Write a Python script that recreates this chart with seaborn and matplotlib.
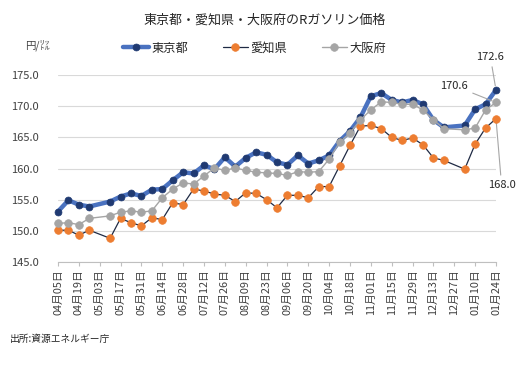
import matplotlib
matplotlib.use("Agg")
import matplotlib.pyplot as plt
import seaborn as sns
import pandas as pd
import numpy as np

# weekly survey dates (05/03 and 12/27 not published)
DATES = ["2021-04-05", "2021-04-12", "2021-04-19", "2021-04-26",
         "2021-05-10", "2021-05-17", "2021-05-24", "2021-05-31",
         "2021-06-07", "2021-06-14", "2021-06-21", "2021-06-28",
         "2021-07-05", "2021-07-12", "2021-07-19", "2021-07-26",
         "2021-08-02", "2021-08-09", "2021-08-16", "2021-08-23",
         "2021-08-30", "2021-09-06", "2021-09-13", "2021-09-20",
         "2021-09-27", "2021-10-04", "2021-10-11", "2021-10-18",
         "2021-10-25", "2021-11-01", "2021-11-08", "2021-11-15",
         "2021-11-22", "2021-11-29", "2021-12-06", "2021-12-13",
         "2021-12-20", "2022-01-03", "2022-01-10", "2022-01-17",
         "2022-01-24"]

TOKYO = [153.1, 154.9, 154.2, 153.9, 154.7, 155.5, 156.0, 155.6,
         156.6, 156.7, 158.1, 159.4, 159.2, 160.5, 159.9, 161.8,
         160.3, 161.7, 162.6, 162.2, 161.0, 160.6, 162.1, 160.8,
         161.3, 162.1, 164.4, 166.0, 168.2, 171.6, 172.1, 171.0,
         170.6, 171.0, 170.3, 167.8, 166.6, 166.9, 169.5, 170.3,
         172.6]

AICHI = [150.1, 150.1, 149.3, 150.1, 148.8, 152.0, 151.3, 150.8,
         152.1, 151.8, 154.5, 154.2, 156.7, 156.4, 155.9, 155.7,
         154.7, 156.1, 156.0, 155.0, 153.7, 155.7, 155.7, 155.3,
         157.1, 157.1, 160.4, 163.7, 166.8, 166.9, 166.4, 165.0,
         164.5, 164.9, 163.8, 161.7, 161.3, 159.9, 163.9, 166.5,
         168.0]

OSAKA = [151.2, 151.3, 151.0, 152.0, 152.4, 153.0, 153.2, 153.0,
         153.2, 155.3, 156.7, 157.7, 157.5, 158.8, 160.1, 159.7,
         160.1, 159.7, 159.4, 159.3, 159.2, 158.9, 159.5, 159.4,
         159.5, 161.5, 164.2, 165.7, 167.8, 169.4, 170.7, 170.6,
         170.3, 170.3, 169.4, 167.8, 166.4, 166.2, 166.5, 169.4,
         170.6]

SERIES = ["東京都", "愛知県", "大阪府"]
Y_TICKS = [145, 150, 155, 160, 165, 170, 175]

sns.set_style("white")
plt.rcParams["font.family"] = ["Noto Sans CJK JP", "DejaVu Sans"]

df = pd.DataFrame({
    "date": pd.to_datetime(DATES),
    "tokyo": TOKYO,
    "aichi": AICHI,
    "osaka": OSAKA,
})

fig = plt.figure(figsize=(5.29, 3.73), dpi=100)
ax = fig.add_axes([0.1096, 0.2976, 0.828, 0.5013])

# Tokyo: thick blue line, dark navy markers
sns.lineplot(data=df, x="date", y="tokyo", ax=ax, color="#4A72C0", lw=3.2,
             marker="o", markersize=5, markerfacecolor="#203A72",
             markeredgecolor="#203A72", markeredgewidth=0.5,
             label=SERIES[0], clip_on=False, zorder=3)
# Aichi: thin dark line, orange markers
sns.lineplot(data=df, x="date", y="aichi", ax=ax, color="#1F2A44", lw=0.9,
             marker="o", markersize=5.5, markerfacecolor="#ED7D31",
             markeredgecolor="#ED7D31", markeredgewidth=0.5,
             label=SERIES[1], clip_on=False, zorder=4)
# Osaka: gray
sns.lineplot(data=df, x="date", y="osaka", ax=ax, color="#A5A5A5", lw=1.0,
             marker="o", markersize=5.5, markerfacecolor="#A5A5A5",
             markeredgecolor="#A5A5A5", markeredgewidth=0.5,
             label=SERIES[2], clip_on=False, zorder=5)

ax.set_xlim(pd.Timestamp("2021-04-05"), pd.Timestamp("2022-01-24"))
ax.set_ylim(145, 175)
ax.set_yticks(Y_TICKS)
ax.set_yticklabels([f"{v:.1f}" for v in Y_TICKS], fontsize=8, color="#404040")

xt = pd.date_range("2021-04-05", "2022-01-24", freq="14D")
ax.set_xticks(xt)
ax.set_xticklabels([d.strftime("%m月%d日") for d in xt], rotation=90,
                   fontsize=7.8, color="#404040")

ax.grid(axis="y", color="#D9D9D9", lw=0.8)
ax.set_axisbelow(True)
for side in ["top", "right", "left"]:
    ax.spines[side].set_visible(False)
ax.spines["bottom"].set_color("#BFBFBF")
ax.tick_params(axis="x", length=3, color="#BFBFBF", pad=2, bottom=True)
ax.tick_params(axis="y", length=0, pad=14)
ax.set_xlabel("")
ax.set_ylabel("")

# value labels for the last week
last = df["date"].iloc[-1]
lead = dict(arrowstyle="-", color="#A6A6A6", lw=0.8, shrinkA=1, shrinkB=3)
ax.annotate(f"{TOKYO[-1]:.1f}", xy=(last, TOKYO[-1]), xytext=(-4, 20),
            textcoords="offset points", ha="center", va="bottom",
            fontsize=8, color="#262626", arrowprops=lead, annotation_clip=False)
ax.annotate(f"{OSAKA[-1]:.1f}", xy=(last, OSAKA[-1]), xytext=(-20, 12),
            textcoords="offset points", ha="right", va="center",
            fontsize=8, color="#262626", arrowprops=lead, annotation_clip=False)
ax.annotate(f"{AICHI[-1]:.1f}", xy=(last, AICHI[-1]), xytext=(4, -44),
            textcoords="offset points", ha="center", va="top",
            fontsize=8, color="#262626", arrowprops=lead, annotation_clip=False)

ax.legend(loc="center", bbox_to_anchor=(0.482, 0.871),
          bbox_transform=fig.transFigure, ncol=3, frameon=False,
          fontsize=8.8, handlelength=2.1, handletextpad=0.2,
          columnspacing=2.8)

fig.text(0.5, 1 - 20 / 373, "東京都・愛知県・大阪府のRガソリン価格",
         ha="center", va="center", fontsize=9.4, color="#262626")
fig.text(25 / 529, 1 - 45 / 373, "円/㍑", ha="left", va="center",
         fontsize=7.5, color="#404040")
fig.text(10 / 529, 1 - 339 / 373, "出所:資源エネルギー庁", ha="left",
         va="center", fontsize=7, color="#262626")

fig.savefig("out.png", dpi=100)
